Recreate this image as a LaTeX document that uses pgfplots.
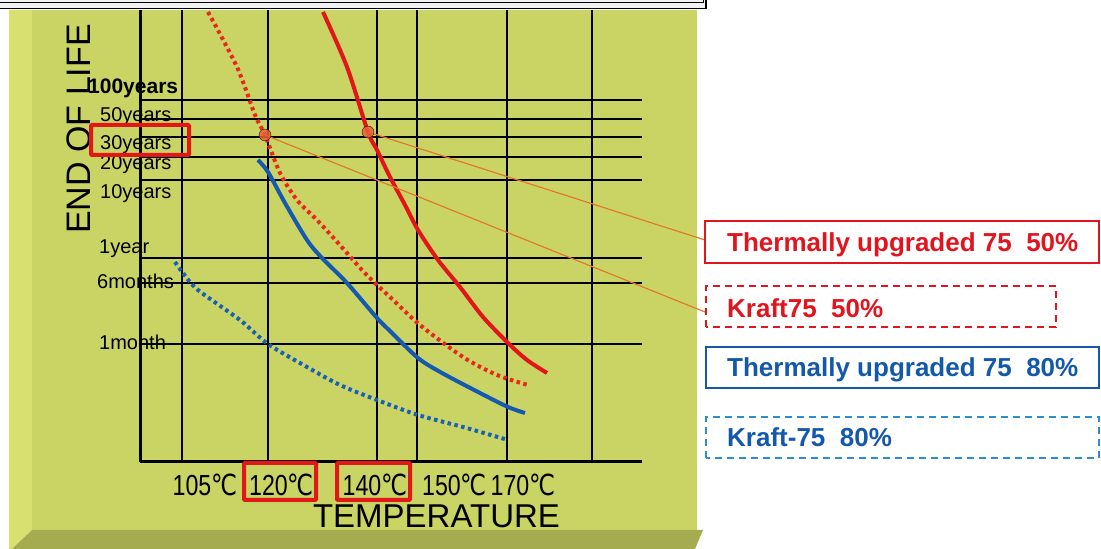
\documentclass[border=0pt]{standalone}
\usepackage{pgfplots}
\pgfplotsset{compat=1.18}
\usepackage{fontspec}
\setmainfont{Liberation Sans}
\newfontfamily\narrowfont{Liberation Sans}[FakeStretch=0.8]
\newfontfamily\degnarrow{DejaVu Sans}[FakeStretch=0.8]
\definecolor{panel}{RGB}{202,212,100}
\definecolor{panelleft}{RGB}{216,224,112}
\definecolor{panelbottom}{RGB}{165,172,80}
\definecolor{redline}{RGB}{226,22,26}
\definecolor{reddot}{RGB}{232,40,30}
\definecolor{blueline}{RGB}{22,90,176}
\definecolor{bluedot}{RGB}{26,96,182}
\definecolor{leader}{RGB}{226,122,40}
\definecolor{dotfill}{RGB}{232,96,56}
\definecolor{legred}{RGB}{226,20,30}
\definecolor{legblue}{RGB}{20,88,170}
\definecolor{lightblueborder}{RGB}{45,140,210}
\definecolor{framered}{RGB}{226,24,24}
\begin{document}
\begin{tikzpicture}[x=1pt,y=1pt]
\useasboundingbox (0,0) rectangle (1101,549);
\fill[white] (0,0) rectangle (1101,549);
% panel with bevels
\fill[panelleft] (9,0) -- (9,539) -- (32,539) -- (32,19) -- (12,0) -- cycle;
\fill[panel] (32,19) rectangle (697,539);
\fill[panelbottom] (12,0) -- (32,19) -- (703,19) -- (695,0) -- cycle;
% top frame
\fill[gray!10] (0,540) rectangle (706,549);
\draw[line width=1.2pt] (0,546.5) -- (704,546.5);
\draw[line width=1.6pt] (0,540.5) -- (706,540.5) -- (706,549);
\draw[line width=1pt] (703,549) -- (703,546.5);

\begin{axis}[
  x=1pt, y=1pt,
  at={(140,87)}, anchor=south west,
  xmin=140, xmax=642, ymin=87, ymax=539,
  axis x line*=bottom, axis y line*=left,
  axis line style={line width=3pt, black},
  xtick={182,268,377,417,507,592},
  ytick={205,266,291,369,392,412,430,449},
  xticklabels={}, yticklabels={},
  major tick length=0pt,
  grid=major,
  major grid style={line width=1.8pt, black},
  clip=false,
]
% Thermally upgraded 75 50%
\addplot[redline, line width=4pt, smooth] coordinates {
 (323,537) (347,482) (368,417) (377,399) (390,372) (405,344) (418,319)
 (438,289) (460,262) (483,232) (508,206) (527,189) (547,176)};
% Kraft75 50%
\addplot[reddot, line width=4pt, smooth, dash pattern=on 3.5pt off 3.5pt] coordinates {
 (208,537) (237,482) (255,434) (265,414) (280,376) (297,349) (315,331)
 (330,315) (347,296) (362,279) (377,264) (390,252) (420,224) (463,192)
 (497,174) (528,164)};
% Thermally upgraded 75 80%
\addplot[blueline, line width=4pt, smooth] coordinates {
 (258,389) (268,377) (285,346) (307,309) (322,291) (347,266) (377,231)
 (390,218) (418,191) (442,176) (480,156) (508,142) (525,136)};
% Kraft-75 80%
\addplot[bluedot, line width=4pt, smooth, dash pattern=on 3.5pt off 3.5pt] coordinates {
 (175,287) (183,276) (198,259) (240,229) (268,205) (307,182) (340,164)
 (377,149) (418,134) (463,122) (508,109)};
% leader lines
\addplot[leader, line width=1.2pt] coordinates {(368,417) (705,309)};
\addplot[leader, line width=1.2pt] coordinates {(265,414) (705,237)};
% 30-year points
\addplot[only marks, mark=*, mark size=6pt,
  mark options={fill=dotfill, draw=none, opacity=0.85}] coordinates {(265,414) (368,417)};
\end{axis}

% y labels
\node[anchor=base west, inner sep=0, font=\bfseries\fontsize{21}{24}\selectfont] at (88,455) {100years};
\begin{scope}[every node/.style={anchor=base west, inner sep=0, font=\fontsize{20}{24}\selectfont}]
\node at (100,427) {50years};
\node at (100,399) {30years};
\node at (100,379) {20years};
\node at (100,350) {10years};
\node at (99,295) {1year};
\node at (97,260) {6months};
\node at (99,199) {1month};
\end{scope}
% y axis title
\node[rotate=90, anchor=base, inner sep=0, font=\fontsize{34}{38}\selectfont] at (90,420) {END OF LIFE};
% x labels
\begin{scope}[every node/.style={anchor=base, inner sep=0, font=\narrowfont\fontsize{29}{32}\selectfont}]
\node at (205,53) {105{\degnarrow ℃}};
\node at (281.5,53) {120{\degnarrow ℃}};
\node at (375,53) {140{\degnarrow ℃}};
\node at (454.5,53) {150{\degnarrow ℃}};
\node at (523,53) {170{\degnarrow ℃}};
\end{scope}
\node[anchor=base, inner sep=0, font=\fontsize{33}{36}\selectfont] at (436.5,21) {TEMPERATURE};
% highlight boxes
\draw[framered, line width=4pt, rounded corners=1pt] (91,394) rectangle (189,424);
\draw[framered, line width=4pt, rounded corners=1pt] (244,49) rectangle (316,86);
\draw[framered, line width=4pt, rounded corners=1pt] (337,49) rectangle (410,86);
% legend boxes
\draw[legred, line width=2pt] (705,286) rectangle (1099,328);
\node[anchor=base west, inner sep=0, text=legred, font=\bfseries\fontsize{26}{30}\selectfont] at (727,297) {Thermally upgraded 75\ \ 50\%};
\draw[legred, line width=2pt, dash pattern=on 7pt off 5pt] (706,222) rectangle (1056,263);
\node[anchor=base west, inner sep=0, text=legred, font=\bfseries\fontsize{26}{30}\selectfont] at (727,231) {Kraft75\ \ 50\%};
\draw[legblue, line width=2pt] (706,161) rectangle (1099,202);
\node[anchor=base west, inner sep=0, text=legblue, font=\bfseries\fontsize{26}{30}\selectfont] at (727,172) {Thermally upgraded 75\ \ 80\%};
\draw[lightblueborder, line width=2pt, dash pattern=on 7pt off 5pt] (706,91) rectangle (1099,132);
\node[anchor=base west, inner sep=0, text=legblue, font=\bfseries\fontsize{26}{30}\selectfont] at (727,102) {Kraft-75\ \ 80\%};
\end{tikzpicture}
\end{document}
